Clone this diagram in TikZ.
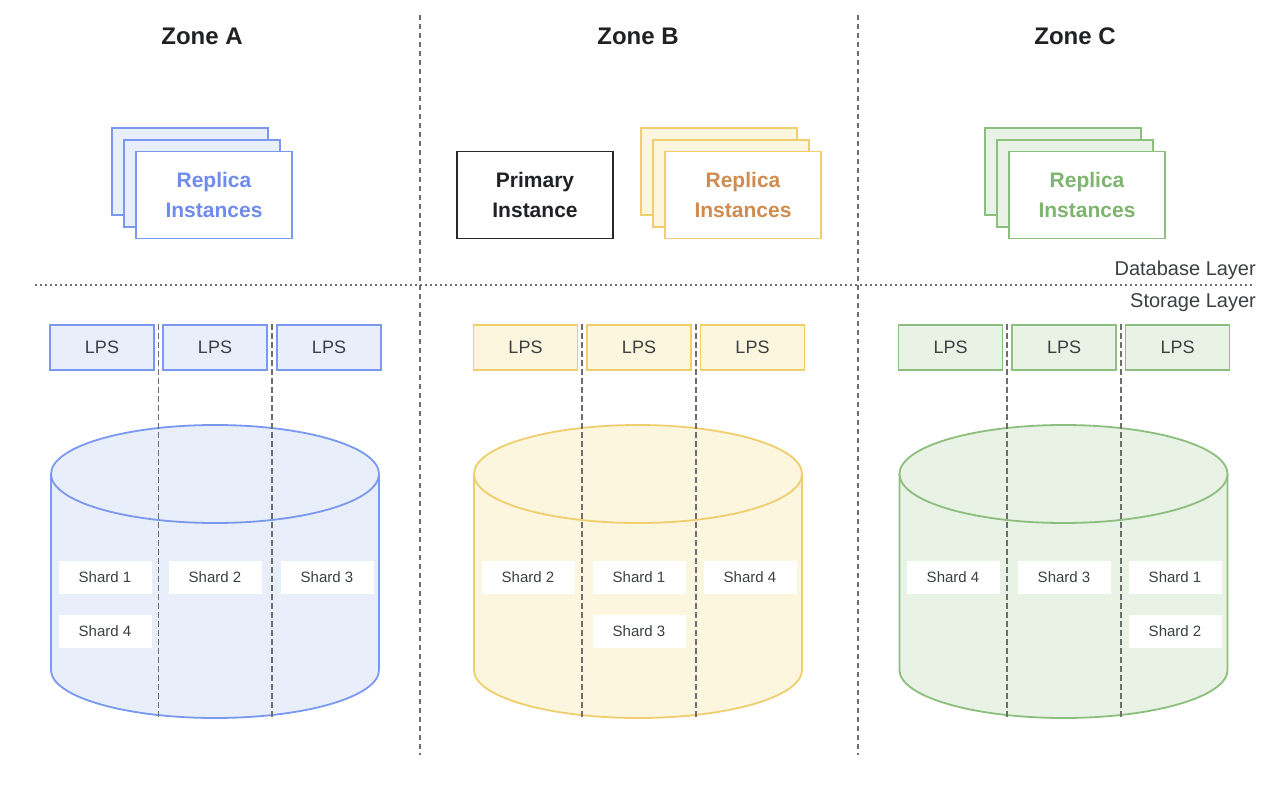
\documentclass[tikz,border=0pt]{standalone}
\usepackage{fontspec}
\setmainfont{Liberation Sans}
\usetikzlibrary{positioning,calc}

\definecolor{blueline}{RGB}{122,152,240}
\definecolor{bluefill}{RGB}{233,238,251}
\definecolor{bluetext}{RGB}{112,140,235}
\definecolor{yellowline}{RGB}{240,206,110}
\definecolor{yellowfill}{RGB}{252,246,222}
\definecolor{yellowtext}{RGB}{208,140,78}
\definecolor{greenline}{RGB}{140,190,125}
\definecolor{greenfill}{RGB}{232,242,229}
\definecolor{greentext}{RGB}{125,180,110}
\definecolor{inkline}{RGB}{40,40,42}
\definecolor{inktext}{RGB}{32,33,36}
\definecolor{inkgray}{RGB}{60,64,67}
\definecolor{titlegray}{RGB}{32,33,36}
\definecolor{rulegray}{RGB}{110,110,110}

\tikzset{
  zonetitle/.style={font=\bfseries\fontsize{24}{28}\selectfont, text=titlegray},
  layerlabel/.style={font=\fontsize{20}{24}\selectfont, text=inkgray, inner sep=0pt},
  instbox/.style={draw=#1line, line width=1.8pt, minimum width=156pt, minimum height=87pt,
    align=center, font=\bfseries\fontsize{21}{30}\selectfont, text=#1text},
  lpsbox/.style={draw=#1line, fill=#1fill, line width=1.8pt, minimum width=104pt,
    minimum height=45pt, font=\fontsize{18}{20}\selectfont, text=inkgray},
  shardbox/.style={fill=white, minimum width=93pt, minimum height=33pt,
    font=\fontsize{15}{18}\selectfont, text=inkgray},
  zoneline/.style={rulegray, line width=1.6pt, dash pattern=on 5pt off 4pt},
  layerline/.style={rulegray, line width=1.6pt, dash pattern=on 1.6pt off 3.4pt},
  shardline/.style={rulegray, line width=1.6pt, dash pattern=on 6pt off 3pt}
}

% storage drum: #1 centre x, #2 colour prefix
\newcommand{\storagedrum}[2]{%
  \fill[#2fill] ({#1-164},474) -- ({#1-164},670)
    arc[start angle=180, end angle=360, x radius=164pt, y radius=48pt] -- ({#1+164},474) -- cycle;
  \draw[#2line, line width=1.8pt] ({#1-164},474) -- ({#1-164},670)
    arc[start angle=180, end angle=360, x radius=164pt, y radius=48pt] -- ({#1+164},474);
  \filldraw[fill=#2fill, draw=#2line, line width=1.8pt] (#1,474) ellipse [x radius=164pt, y radius=49pt];
}

\begin{document}
\begin{tikzpicture}[x=1pt, y=-1pt]
  \useasboundingbox[fill=white] (0,0) rectangle (1276,786);

  % Zone dividers and layer line
  \draw[zoneline] (420,15) -- (420,755);
  \draw[zoneline] (858,15) -- (858,755);
  \draw[layerline] (35,285) -- (1255,285);

  % Zone titles
  \node[zonetitle] (titleA) at (202,36) {Zone A};
  \node[zonetitle] (titleB) at (638,36) {Zone B};
  \node[zonetitle] (titleC) at (1075,36) {Zone C};

  % Layer labels
  \node[layerlabel, anchor=base east] (dblayer) at (1256,275) {Database Layer};
  \node[layerlabel, anchor=base east] (stlayer) at (1256,307) {Storage Layer};

  % Database layer
  \node[instbox=blue, fill=bluefill] (repA3) at (190,171.5) {};
  \node[instbox=blue, fill=bluefill] (repA2) at (202,183.5) {};
  \node[instbox=blue, fill=white] (repA1) at (214,195) {Replica\\Instances};

  \node[instbox=ink, fill=white] (primB) at (535,195) {Primary\\Instance};
  \node[instbox=yellow, fill=yellowfill] (repB3) at (719,171.5) {};
  \node[instbox=yellow, fill=yellowfill] (repB2) at (731,183.5) {};
  \node[instbox=yellow, fill=white] (repB1) at (743,195) {Replica\\Instances};

  \node[instbox=green, fill=greenfill] (repC3) at (1063,171.5) {};
  \node[instbox=green, fill=greenfill] (repC2) at (1075,183.5) {};
  \node[instbox=green, fill=white] (repC1) at (1087,195) {Replica\\Instances};

  % Storage drums
  \storagedrum{215}{blue}
  \storagedrum{638}{yellow}
  \storagedrum{1063.5}{green}

  % LPS boxes
  \node[lpsbox=blue] (lpsA1) at (102,347.5) {LPS};
  \node[lpsbox=blue] (lpsA2) at (215,347.5) {LPS};
  \node[lpsbox=blue] (lpsA3) at (329,347.5) {LPS};
  \node[lpsbox=yellow] (lpsB1) at (525.5,347.5) {LPS};
  \node[lpsbox=yellow] (lpsB2) at (639,347.5) {LPS};
  \node[lpsbox=yellow] (lpsB3) at (752.5,347.5) {LPS};
  \node[lpsbox=green] (lpsC1) at (950.5,347.5) {LPS};
  \node[lpsbox=green] (lpsC2) at (1064,347.5) {LPS};
  \node[lpsbox=green] (lpsC3) at (1177.5,347.5) {LPS};

  % Shard separators
  \draw[shardline] ($(lpsA1.north east)!0.5!(lpsA2.north west)$) -- ++(0,395);
  \draw[shardline] ($(lpsA2.north east)!0.5!(lpsA3.north west)$) -- ++(0,395);
  \draw[shardline] ($(lpsB1.north east)!0.5!(lpsB2.north west)$) -- ++(0,395);
  \draw[shardline] ($(lpsB2.north east)!0.5!(lpsB3.north west)$) -- ++(0,395);
  \draw[shardline] ($(lpsC1.north east)!0.5!(lpsC2.north west)$) -- ++(0,395);
  \draw[shardline] ($(lpsC2.north east)!0.5!(lpsC3.north west)$) -- ++(0,395);

  % Shards
  \node[shardbox] (shA1) at (105,577) {Shard 1};
  \node[shardbox] (shA2) at (215,577) {Shard 2};
  \node[shardbox] (shA3) at (327,577) {Shard 3};
  \node[shardbox] (shA4) at (105,631) {Shard 4};
  \node[shardbox] (shB2) at (528,577) {Shard 2};
  \node[shardbox] (shB1) at (639,577) {Shard 1};
  \node[shardbox] (shB4) at (750,577) {Shard 4};
  \node[shardbox] (shB3) at (639,631) {Shard 3};
  \node[shardbox] (shC4) at (953,577) {Shard 4};
  \node[shardbox] (shC3) at (1064,577) {Shard 3};
  \node[shardbox] (shC1) at (1175,577) {Shard 1};
  \node[shardbox] (shC2) at (1175,631) {Shard 2};
\end{tikzpicture}
\end{document}
